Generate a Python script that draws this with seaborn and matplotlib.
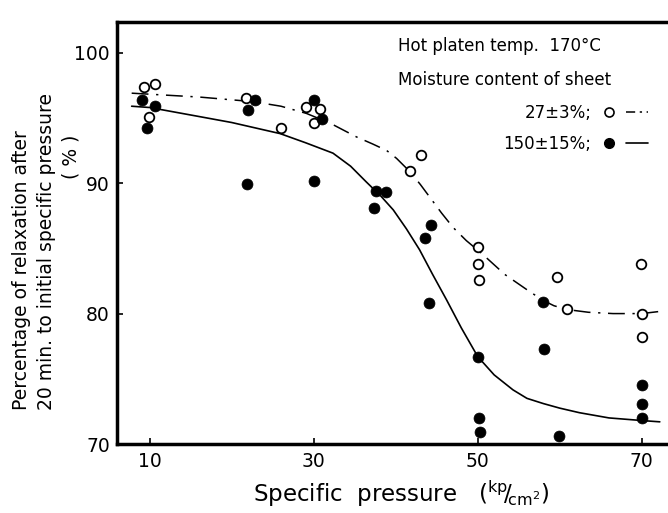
import pandas as pd
import numpy as np
import seaborn as sns
import matplotlib.pyplot as plt
from matplotlib.lines import Line2D
from matplotlib.legend_handler import HandlerTuple

# Moisture 27 +/- 3 % (open circles)
open_x = [9.3, 10.6, 9.9, 21.8, 25.95, 29.1, 30.8, 30.0, 43.1, 41.7,
          50.0, 50.0, 50.2, 59.7, 60.9, 69.9, 70.0, 70.0]
open_y = [97.35, 97.6, 95.1, 96.55, 94.25, 95.85, 95.7, 94.6, 92.15, 90.9,
          85.1, 83.8, 82.6, 82.8, 80.35, 83.8, 80.0, 78.2]

# Moisture 150 +/- 15 % (filled circles)
fill_x = [9.0, 10.7, 9.7, 22.0, 22.8, 21.9, 30.0, 31.05, 30.0, 37.6, 38.8, 37.3,
          44.35, 43.6, 44.1, 58.0, 58.1, 50.0, 50.1, 50.3, 59.9, 70.0, 70.0, 70.0]
fill_y = [96.4, 95.9, 94.2, 95.6, 96.4, 89.9, 96.4, 94.9, 90.2, 89.4, 89.3, 88.1,
          86.8, 85.8, 80.8, 80.9, 77.3, 76.7, 72.0, 70.9, 70.65, 74.5, 73.1, 72.0]

# fitted curves
dd_x = [7.8, 16.1, 22.6, 26.0, 29.1, 32.0, 35.2, 37.2, 38.9, 40.1, 41.7, 43.0,
        44.3, 45.6, 47.0, 48.6, 50.5, 53.3, 56.3, 58.0, 59.3, 61.0, 63.5, 66.5,
        70.0, 72.0]
dd_y = [96.9, 96.6, 96.25, 95.9, 95.35, 94.6, 93.55, 93.0, 92.5, 91.9, 90.9, 89.9,
        88.8, 87.7, 86.6, 85.6, 84.6, 83.0, 81.7, 81.0, 80.6, 80.3, 80.1, 80.0,
        80.0, 80.15]
sol_x = [7.8, 10.0, 16.1, 20.0, 25.9, 29.0, 32.35, 34.5, 36.4, 38.2, 39.7, 41.3,
         42.9, 44.5, 46.2, 48.0, 50.0, 52.0, 54.3, 56.0, 58.0, 60.0, 62.4, 66.0,
         70.0, 72.2]
sol_y = [95.9, 95.8, 95.1, 94.65, 93.8, 93.1, 92.3, 91.3, 90.1, 89.0, 87.95, 86.5,
         84.9, 83.0, 81.05, 78.9, 76.7, 75.3, 74.15, 73.5, 73.1, 72.75, 72.4, 72.0,
         71.8, 71.7]

x_ticks = [10, 30, 50, 70]
y_ticks = [70, 80, 90, 100]

sns.set_style("ticks")
plt.rcParams['font.family'] = ['DejaVu Sans']
plt.rcParams['text.color'] = 'black'
plt.rcParams['xtick.direction'] = 'in'
plt.rcParams['ytick.direction'] = 'in'

fig = plt.figure(figsize=(6.68, 5.13), dpi=100)
ax = fig.add_axes([0.175, 0.1345, 0.825, 0.8232])

dashdot = (0, (11, 5, 1.5, 5))
sns.lineplot(x=dd_x, y=dd_y, color='black', lw=1.1, linestyle=dashdot, sort=False, ax=ax)
sns.lineplot(x=sol_x, y=sol_y, color='black', lw=1.2, sort=False, ax=ax)

sns.scatterplot(x=open_x, y=open_y, marker='o', s=48, facecolor='white',
                edgecolor='black', linewidth=1.3, ax=ax, zorder=3)
sns.scatterplot(x=fill_x, y=fill_y, marker='o', s=62, color='black',
                edgecolor='black', linewidth=0.5, ax=ax, zorder=3)

ax.set_xlim(6, 73.2)
ax.set_ylim(70, 102.38)
ax.set_xticks(x_ticks)
ax.set_yticks(y_ticks)
ax.set_xlabel('')
ax.set_ylabel('')
ax.tick_params(axis='both', length=4, width=1.2, labelsize=13.5, colors='black')
ax.tick_params(axis='x', pad=6)
ax.tick_params(axis='y', pad=5)
for side in ['left', 'bottom', 'top']:
    ax.spines[side].set_linewidth(2.5)
    ax.spines[side].set_color('black')
ax.spines['right'].set_visible(False)

# axis titles
fig.text(253 / 668, 1 - 502 / 513, r'Specific  pressure   ($^{\mathregular{kp}}\!/\!_{\mathregular{cm}^2}$)',
         fontsize=16.5, ha='left', va='baseline', color='black')
fig.text(0.0325, 1 - 410 / 513, 'Percentage of relaxation after', rotation=90,
         fontsize=13.5, ha='center', va='bottom', color='black')
fig.text(0.0699, 1 - 410 / 513, '20 min. to initial specific pressure', rotation=90,
         fontsize=13.5, ha='center', va='bottom', color='black')
fig.text(0.107, 1 - 157 / 513, '( % )', rotation=90, fontsize=13.5, ha='center',
         va='center', color='black')

# annotation block
fig.text(398 / 668, 1 - 46 / 513, 'Hot platen temp.  170°C', fontsize=12, ha='left',
         va='center', color='black')
fig.text(398 / 668, 1 - 80 / 513, 'Moisture content of sheet', fontsize=12, ha='left',
         va='center', color='black')

h_open = (Line2D([], [], marker='o', ls='none', mfc='white', mec='black', ms=6.5, mew=1.2),
          Line2D([], [], color='black', lw=1.1, ls=(0, (6, 3, 1.5, 3))))
h_fill = (Line2D([], [], marker='o', ls='none', color='black', ms=7),
          Line2D([], [], color='black', lw=1.2))
leg = ax.legend([h_open, h_fill], ['27±3%;', '150±15%;'], markerfirst=False,
                handler_map={tuple: HandlerTuple(ndivide=None, pad=0.3)},
                frameon=False, fontsize=12, handlelength=3.0, handletextpad=0.4,
                labelspacing=0.8, loc='upper right', borderpad=0, borderaxespad=0,
                bbox_to_anchor=(648 / 668, 0.798), bbox_transform=fig.transFigure)
for t in leg.get_texts():
    t.set_color('black')

fig.savefig('out.png', dpi=100)
